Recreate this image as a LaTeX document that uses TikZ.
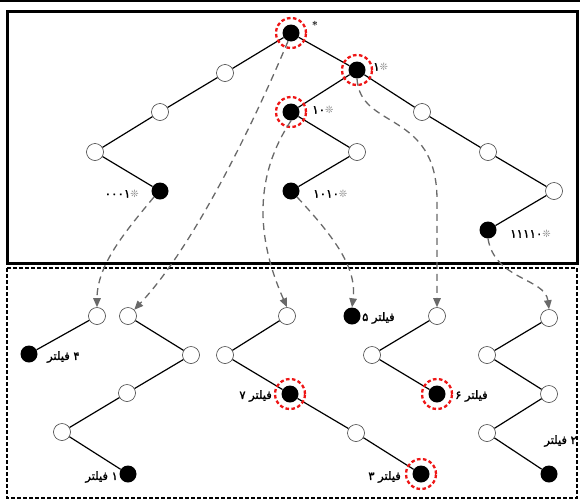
\documentclass[tikz,border=0pt]{standalone}
\usepackage{fontspec}
\usetikzlibrary{arrows.meta}
\newfontfamily\arabicfont[Script=Arabic,FakeBold=1.8]{DejaVu Sans}
\newfontfamily\symfont{DejaVu Sans}
\definecolor{arrgray}{RGB}{105,105,105}
\definecolor{ringred}{RGB}{238,22,22}
\definecolor{stargray}{RGB}{140,140,140}
\newcommand{\stR}{{\symfont\color{stargray}\fontsize{10}{11}\selectfont ❊}}
\newcommand{\fw}{{\arabicfont فیلتر}}
\begin{document}
\begin{tikzpicture}[x=1pt,y=-1pt,
  wnode/.style={circle,draw=black!75,line width=0.6pt,fill=white,minimum size=17pt,inner sep=0pt},
  bnode/.style={circle,fill=black,minimum size=17pt,inner sep=0pt},
  edge/.style={line width=1.2pt},
  ring/.style={draw=ringred,line width=2.3pt,dash pattern=on 3.6pt off 2.4pt},
  ptr/.style={draw=arrgray,line width=1.3pt,dash pattern=on 7pt off 5pt,-{Triangle[length=9pt,width=7.5pt]}},
  tlab/.style={font=\arabicfont\fontsize{12}{13}\selectfont,inner sep=0pt},
  flab/.style={font=\arabicfont\fontsize{11.5}{13}\selectfont,inner sep=0pt}]
\useasboundingbox (0,0) rectangle (580,501);
% frames
\draw[line width=2pt] (0,1) -- (580,1);
\draw[line width=3pt] (7.5,11) rectangle (577,263);
\draw[line width=2.5pt,dash pattern=on 4pt off 2pt] (7,268) rectangle (577,498);

% top trie
\node[bnode] (r) at (291,33) {};
\node[wnode] (n0) at (225,73) {};
\node[wnode] (n00) at (160,112) {};
\node[wnode] (n000) at (95,152) {};
\node[bnode] (n0001) at (160,191) {};
\node[bnode] (n1) at (357,70) {};
\node[bnode] (n10) at (291,112) {};
\node[wnode] (n101) at (357,152) {};
\node[bnode] (n1010) at (291,191) {};
\node[wnode] (n11) at (422,112) {};
\node[wnode] (n111) at (488,152) {};
\node[wnode] (n1111) at (554,191) {};
\node[bnode] (n11110) at (488,230) {};
\foreach \a/\b in {r/n0,n0/n00,n00/n000,n000/n0001,r/n1,n1/n10,n10/n101,n101/n1010,n1/n11,n11/n111,n111/n1111,n1111/n11110}
  \draw[edge] (\a) -- (\b);
\draw[ring] (r) circle[radius=15pt];
\draw[ring] (n1) circle[radius=15pt];
\draw[ring] (n10) circle[radius=15pt];

\node[inner sep=0pt,font=\bfseries\fontsize{11}{12}\selectfont] (lr) at (315,25) {*};
\node[tlab,anchor=west] (l1) at (373,67) {۱\stR};
\node[tlab,anchor=west] (l10) at (312,110) {۱۰\stR};
\node[tlab,anchor=east] (l0001) at (139,194) {۰۰۰۱\stR};
\node[tlab,anchor=west] (l1010) at (313,194) {۱۰۱۰\stR};
\node[tlab,anchor=west] (l11110) at (510,234) {۱۱۱۱۰\stR};

% bottom tries
\node[wnode] (a0) at (97,316) {};
\node[bnode] (a1) at (29,354) {};
\node[wnode] (b0) at (128,316) {};
\node[wnode] (b1) at (191,355) {};
\node[wnode] (b2) at (127,393) {};
\node[wnode] (b3) at (62,432) {};
\node[bnode] (b4) at (128,474) {};
\node[wnode] (c0) at (287,316) {};
\node[wnode] (c1) at (225,355) {};
\node[bnode] (c2) at (290,394) {};
\node[wnode] (c3) at (356,433) {};
\node[bnode] (c4) at (421,474) {};
\node[bnode] (f5) at (352,316) {};
\node[wnode] (d0) at (437,316) {};
\node[wnode] (d1) at (372,355) {};
\node[bnode] (d2) at (437,394) {};
\node[wnode] (e0) at (549,318) {};
\node[wnode] (e1) at (487,355) {};
\node[wnode] (e2) at (549,394) {};
\node[wnode] (e3) at (487,433) {};
\node[bnode] (e4) at (549,474) {};
\foreach \a/\b in {a0/a1,b0/b1,b1/b2,b2/b3,b3/b4,c0/c1,c1/c2,c2/c3,c3/c4,d0/d1,d1/d2,e0/e1,e1/e2,e2/e3,e3/e4}
  \draw[edge] (\a) -- (\b);
\draw[ring] (c2) circle[radius=15pt];
\draw[ring] (c4) circle[radius=15pt];
\draw[ring] (d2) circle[radius=15pt];

% labels in visual (left-to-right) order
\node[flab,anchor=west] (t4) at (47,357) {\fw\ ۴};
\node[flab,anchor=east] (t1) at (118,477) {\fw\ ۱};
\node[flab,anchor=east] (t7) at (272,396) {۷\ \fw};
\node[flab,anchor=east] (t3) at (401,477) {۳\ \fw};
\node[flab,anchor=west] (t5) at (362,318) {۵\ \fw};
\node[flab,anchor=west] (t6) at (455,396) {۶\ \fw};
\node[flab,anchor=east] (t2) at (577,441) {\fw\ ۲};

% pointers
\draw[ptr] (n0001.south west) .. controls (125,232) and (97,265) .. (a0.north);
\draw[ptr] (r.250) .. controls (255,120) and (195,245) .. (b0.north east);
\draw[ptr] (n10.south) .. controls (255,175) and (255,235) .. (c0.north);
\draw[ptr] (n1010.south east) .. controls (335,238) and (357,268) .. (f5.north);
\draw[ptr] (n1.south) .. controls (360,130) and (437,110) .. (437,200) -- (d0.north);
\draw[ptr] (n11110.south) .. controls (495,280) and (545,278) .. (e0.north);
\end{tikzpicture}
\end{document}
